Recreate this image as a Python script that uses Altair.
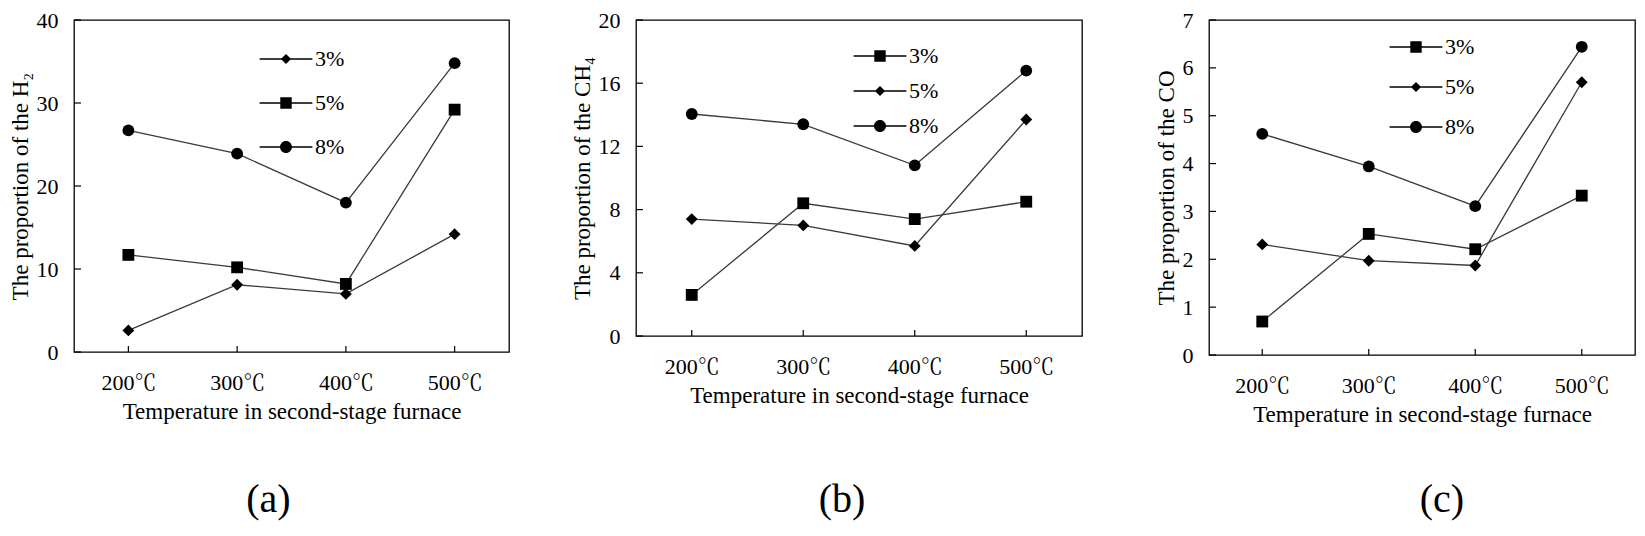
import altair as alt
import pandas as pd

FONT = "Liberation Serif, Noto Serif CJK SC, Noto Sans CJK SC, DejaVu Serif"

temps = ["200℃", "300℃", "400℃", "500℃"]
series = ["3%", "5%", "8%"]

# (a) H2
h2_3 = [2.6, 8.1, 7.0, 14.2]
h2_5 = [11.7, 10.2, 8.2, 29.2]
h2_8 = [26.7, 23.9, 18.0, 34.8]
h2_ticks = [0, 10, 20, 30, 40]

# (b) CH4
ch4_3 = [2.6, 8.4, 7.4, 8.5]
ch4_5 = [7.4, 7.0, 5.7, 13.7]
ch4_8 = [14.05, 13.4, 10.8, 16.8]
ch4_ticks = [0, 4, 8, 12, 16, 20]

# (c) CO
co_3 = [0.70, 2.53, 2.21, 3.33]
co_5 = [2.31, 1.97, 1.87, 5.70]
co_8 = [4.62, 3.94, 3.11, 6.44]
co_ticks = [0, 1, 2, 3, 4, 5, 6, 7]

x_title = "Temperature in second-stage furnace"

# legend symbols: a line segment with the marker on it
L, T = 4.4, 0.11
seg = f"M-{L},-{T}H{L}V{T}H-{L}Z"
leg_diamond = seg + "M-0.85,0L0,-0.85L0.85,0L0,0.85Z"
leg_square = seg + "M-0.95,-0.95H0.95V0.95H-0.95Z"
leg_circle = seg + "M-1,0A1,1 0 1,1 1,0A1,1 0 1,1 -1,0Z"
shape_of = {"diamond": leg_diamond, "square": leg_square, "circle": leg_circle}


def panel(v3, v5, v8, shapes, ticks, ymax, ytitle, caption, width, height,
          leg_x, leg_y, row_pad, cap_dx, cap_offset):
    rows = []
    for s, vals in zip(series, [v3, v5, v8]):
        for t, v in zip(temps, vals):
            rows.append({"series": s, "temp": t, "value": v})
    df = pd.DataFrame(rows)

    def xenc():
        return alt.X("temp:N", sort=temps,
                     scale=alt.Scale(type="point", domain=temps, padding=0.5),
                     axis=alt.Axis(title=x_title, labelAngle=0, labelPadding=20,
                                   titlePadding=7))

    def yenc():
        return alt.Y("value:Q", scale=alt.Scale(domain=[0, ymax], nice=False, zero=True),
                     axis=alt.Axis(values=ticks, title=ytitle, labelPadding=16,
                                   titlePadding=4, format="d"))

    ytick = alt.Chart(pd.DataFrame({"value": ticks})).mark_rule(
        color="black", strokeWidth=1.2).encode(y=yenc(), x=alt.value(0), x2=alt.value(7))
    xtick = alt.Chart(pd.DataFrame({"temp": temps})).mark_rule(
        color="black", strokeWidth=1.2).encode(x=xenc(), y=alt.value(height),
                                               y2=alt.value(height - 6))
    lines = alt.Chart(df).mark_line(color="#3a3a3a", strokeWidth=1.3).encode(
        x=xenc(), y=yenc(), detail="series:N")
    pts = alt.Chart(df).mark_point(filled=True, color="black", opacity=1, size=140).encode(
        x=xenc(), y=yenc(),
        shape=alt.Shape("series:N", scale=alt.Scale(domain=series, range=shapes), legend=None))
    leg = alt.Chart(df).transform_filter("false").mark_point(
        filled=True, color="black", opacity=1).encode(
        shape=alt.Shape("series:N",
                        scale=alt.Scale(domain=series, range=[shape_of[s] for s in shapes]),
                        legend=alt.Legend(title=None, orient="none", legendX=leg_x,
                                          legendY=leg_y, symbolSize=144,
                                          symbolStrokeWidth=0, symbolFillColor="black",
                                          symbolOpacity=1, labelFontSize=22,
                                          labelFont=FONT, labelColor="black",
                                          labelOffset=18, rowPadding=row_pad,
                                          padding=0)))
    return alt.layer(ytick, xtick, lines, pts, leg).resolve_scale(
        shape="independent").properties(
        width=width, height=height,
        title=alt.TitleParams(caption, orient="bottom", fontSize=40, font=FONT,
                              fontWeight="normal", color="black", dx=cap_dx,
                              offset=cap_offset, anchor="middle"))


pa = panel(h2_3, h2_5, h2_8, ["diamond", "square", "circle"], h2_ticks, 40,
           "The proportion of the H₂", "(a)", 435, 332, 201, 28, 22, -23, 57)
pb = panel(ch4_3, ch4_5, ch4_8, ["square", "diamond", "circle"], ch4_ticks, 20,
           "The proportion of the CH₄", "(b)", 446, 316, 233, 25, 13, -17, 73)
pc = panel(co_3, co_5, co_8, ["square", "diamond", "circle"], co_ticks, 7,
           "The proportion of the CO", "(c)", 426, 335, 196, 16, 18, 20, 54)

chart = alt.hconcat(pa, pb, pc, spacing=127, bounds="flush").properties(
    padding=0).configure_view(
    stroke="black", strokeWidth=1.3).configure_axis(
    domain=False, ticks=False, tickSize=0, grid=False,
    labelFont=FONT, labelFontSize=22, labelColor="black",
    titleFont=FONT, titleFontSize=23, titleFontWeight="normal", titleColor="black")

chart.save("out.html", embed_options={"renderer": "svg", "actions": False})
